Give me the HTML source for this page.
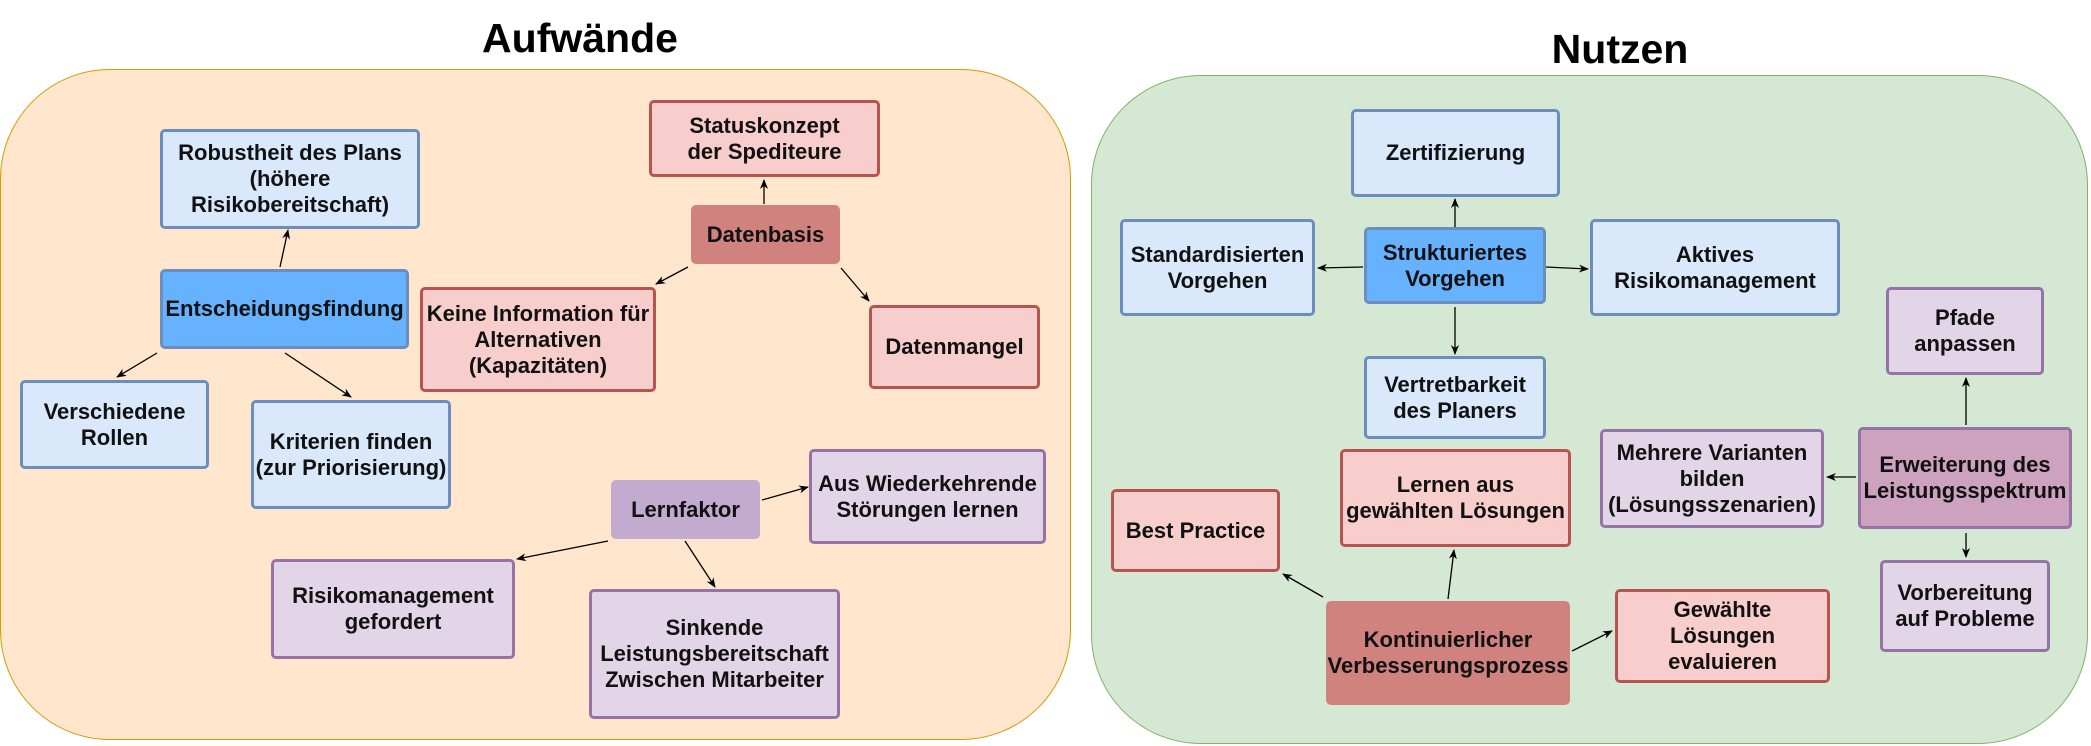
<!DOCTYPE html>
<html><head><meta charset="utf-8"><style>
*{margin:0;padding:0;box-sizing:border-box}
body{width:2091px;height:746px;background:#fff;position:relative;overflow:hidden;font-family:"Liberation Sans",Arial,sans-serif}
.t{position:absolute;font-weight:bold;font-size:41px;color:#000;text-align:center;transform:translateX(-50%)}
.c{position:absolute;border-radius:110px}
.n{position:absolute;display:flex;align-items:center;justify-content:center;text-align:center;font-weight:bold;font-size:22px;line-height:26px;color:#111;border:3px solid;border-radius:5px;white-space:nowrap}
.b{background:#dae8fc;border-color:#6c8ebf}
.bb{background:#66b2ff;border-color:#6c8ebf}
.r{background:#f8cecc;border-color:#b85450}
.rr{background:#d0827e;border-color:#d0827e}
.p{background:#e1d5e7;border-color:#9673a6}
.pp{background:#c3abd0;border-color:#c3abd0}
.pq{background:#cda2be;border-color:#9673a6}
svg{position:absolute;left:0;top:0}
</style></head><body>
<div class="c" style="left:0;top:69px;width:1071px;height:671px;background:#ffe6cc;border:1.5px solid #d79b00"></div>
<div class="c" style="left:1091px;top:75px;width:997px;height:669px;background:#d5e8d4;border:1.5px solid #82b366"></div>
<div class="t" style="left:580px;top:15px">Aufwände</div>
<div class="t" style="left:1620px;top:26px">Nutzen</div>

<div class="n b" style="left:160px;top:129px;width:260px;height:100px">Robustheit des Plans<br>(höhere<br>Risikobereitschaft)</div>
<div class="n bb" style="left:160px;top:269px;width:249px;height:80px">Entscheidungsfindung</div>
<div class="n b" style="left:20px;top:380px;width:189px;height:89px">Verschiedene<br>Rollen</div>
<div class="n b" style="left:251px;top:400px;width:200px;height:109px">Kriterien finden<br>(zur Priorisierung)</div>
<div class="n r" style="left:649px;top:100px;width:231px;height:77px">Statuskonzept<br>der Spediteure</div>
<div class="n rr" style="left:691px;top:205px;width:149px;height:59px">Datenbasis</div>
<div class="n r" style="left:420px;top:287px;width:236px;height:105px">Keine Information für<br>Alternativen<br>(Kapazitäten)</div>
<div class="n r" style="left:869px;top:305px;width:171px;height:84px">Datenmangel</div>
<div class="n pp" style="left:611px;top:480px;width:149px;height:59px">Lernfaktor</div>
<div class="n p" style="left:809px;top:449px;width:237px;height:95px">Aus Wiederkehrende<br>Störungen lernen</div>
<div class="n p" style="left:271px;top:559px;width:244px;height:100px">Risikomanagement<br>gefordert</div>
<div class="n p" style="left:589px;top:589px;width:251px;height:130px">Sinkende<br>Leistungsbereitschaft<br>Zwischen Mitarbeiter</div>

<div class="n b" style="left:1351px;top:109px;width:209px;height:88px">Zertifizierung</div>
<div class="n bb" style="left:1364px;top:227px;width:182px;height:77px">Strukturiertes<br>Vorgehen</div>
<div class="n b" style="left:1120px;top:219px;width:195px;height:97px">Standardisierten<br>Vorgehen</div>
<div class="n b" style="left:1590px;top:219px;width:250px;height:97px">Aktives<br>Risikomanagement</div>
<div class="n b" style="left:1364px;top:356px;width:182px;height:83px">Vertretbarkeit<br>des Planers</div>
<div class="n r" style="left:1340px;top:449px;width:231px;height:98px">Lernen aus<br>gewählten Lösungen</div>
<div class="n r" style="left:1111px;top:489px;width:169px;height:83px">Best Practice</div>
<div class="n rr" style="left:1326px;top:601px;width:244px;height:104px">Kontinuierlicher<br>Verbesserungsprozess</div>
<div class="n r" style="left:1615px;top:589px;width:215px;height:94px">Gewählte<br>Lösungen<br>evaluieren</div>
<div class="n p" style="left:1600px;top:429px;width:224px;height:99px">Mehrere Varianten<br>bilden<br>(Lösungsszenarien)</div>
<div class="n pq" style="left:1858px;top:427px;width:214px;height:102px">Erweiterung des<br>Leistungsspektrum</div>
<div class="n p" style="left:1886px;top:287px;width:158px;height:88px">Pfade<br>anpassen</div>
<div class="n p" style="left:1880px;top:560px;width:170px;height:92px">Vorbereitung<br>auf Probleme</div>

<svg width="2091" height="746" viewBox="0 0 2091 746">
<defs><marker id="a" markerWidth="10" markerHeight="8" refX="9" refY="4" orient="auto" markerUnits="userSpaceOnUse"><path d="M0,0 L10,4 L0,8 L3,4 z" fill="#000"/></marker></defs>
<g stroke="#000" stroke-width="1.3" fill="none" marker-end="url(#a)">
<line x1="280" y1="267" x2="288" y2="230"/>
<line x1="157" y1="353" x2="117" y2="377"/>
<line x1="285" y1="353" x2="351" y2="397"/>
<line x1="764" y1="204" x2="764" y2="180"/>
<line x1="688" y1="267" x2="656" y2="284"/>
<line x1="841" y1="268" x2="869" y2="301"/>
<line x1="762" y1="500" x2="808" y2="487"/>
<line x1="608" y1="541" x2="517" y2="559"/>
<line x1="685" y1="541" x2="715" y2="587"/>
<line x1="1455" y1="227" x2="1455" y2="199"/>
<line x1="1363" y1="267" x2="1318" y2="268"/>
<line x1="1546" y1="267" x2="1588" y2="269"/>
<line x1="1455" y1="307" x2="1455" y2="354"/>
<line x1="1448" y1="599" x2="1454" y2="550"/>
<line x1="1323" y1="597" x2="1283" y2="574"/>
<line x1="1572" y1="651" x2="1612" y2="631"/>
<line x1="1856" y1="477" x2="1827" y2="477"/>
<line x1="1966" y1="425" x2="1966" y2="378"/>
<line x1="1966" y1="533" x2="1966" y2="557"/>
</g></svg>
</body></html>
